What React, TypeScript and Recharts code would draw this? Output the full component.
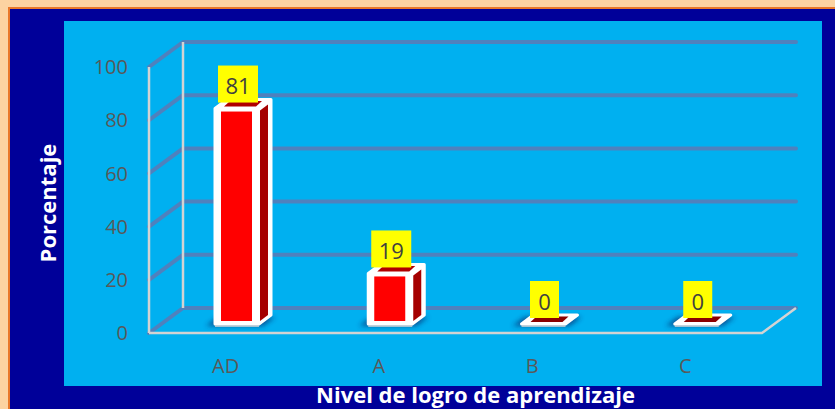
import React from 'react';
import { BarChart, Bar, XAxis, YAxis, CartesianGrid, ReferenceArea, LabelList, Label } from 'recharts';

const categories = ['AD', 'A', 'B', 'C'];
const percentages = [81, 19, 0, 0];
const yTicks = [0, 20, 40, 60, 80, 100];
const yTitle = 'Porcentaje';
const xTitle = 'Nivel de logro de aprendizaje';

const data = categories.map((c, i) => ({ cat: c, value: percentages[i] }));

// 3D layout constants
const DEPTH_X = 34;
const DEPTH_Y = -25;
const FX = 11;
const FY = -9;
const BX = 12;
const BY = -9;
const FONT = '"Open Sans", "Liberation Sans", sans-serif';
const GRID = '#4F81BD';
const FRAME = '#D3D3D3';

const gridLine = (props: any) => {
  const { x1, y1, x2 } = props;
  return (
    <polyline
      key={`g-${props.index}-${y1}`}
      points={`${x1},${y1} ${x1 + DEPTH_X},${y1 + DEPTH_Y} ${x2 + DEPTH_X},${y1 + DEPTH_Y}`}
      fill="none"
      stroke={GRID}
      strokeWidth={4}
      strokeLinecap="round"
      strokeLinejoin="round"
    />
  );
};

const frame = (props: any) => {
  const { x, y, width, height } = props;
  const b = y + height;
  return (
    <g>
      <line x1={x + DEPTH_X} y1={y + DEPTH_Y} x2={x + DEPTH_X} y2={b + DEPTH_Y} stroke={FRAME} strokeWidth={2.5} />
      <line x1={x} y1={y} x2={x} y2={b} stroke={FRAME} strokeWidth={2.5} />
      <polyline
        points={`${x},${b} ${x + width},${b} ${x + width + DEPTH_X},${b + DEPTH_Y}`}
        fill="none"
        stroke={FRAME}
        strokeWidth={2.5}
      />
    </g>
  );
};

const Bar3D = (props: any) => {
  const { x, y, width, height, index } = props;
  const h = Math.max(0, height || 0);
  const w = width;
  const fx = x + FX;
  const fy = y + FY;
  const fid = `shadow-${index}`;
  const sil = [
    [fx, fy + h],
    [fx, fy],
    [fx + BX, fy + BY],
    [fx + w + BX, fy + BY],
    [fx + w + BX, fy + h + BY],
    [fx + w, fy + h],
  ]
    .map((p) => p.join(','))
    .join(' ');
  const shadow = [
    [fx - 9, fy + h + 2],
    [fx - 9 + BX, fy + h + BY + 2],
    [fx + w + BX + 4, fy + h + BY + 2],
    [fx + w + 4, fy + h + 2],
  ]
    .map((p) => p.join(','))
    .join(' ');
  const topInner = [
    [fx + 9, fy - 2],
    [fx + 15, fy - 7.5],
    [fx + w + 3, fy - 7.5],
    [fx + w - 3, fy - 2],
  ]
    .map((p) => p.join(','))
    .join(' ');
  const sx0 = fx + w + 1;
  const sx1 = fx + w + BX - 3;
  const slope = BY / BX;
  const sideInner = [
    [sx0, fy + 2],
    [sx1, fy + 2 + slope * (sx1 - sx0)],
    [sx1, fy + h - 3 + slope * (sx1 - sx0)],
    [sx0, fy + h - 3],
  ]
    .map((p) => p.join(','))
    .join(' ');
  return (
    <g>
      <defs>
        <filter id={fid} x="-50%" y="-50%" width="200%" height="200%">
          <feGaussianBlur stdDeviation="2.5" />
        </filter>
      </defs>
      <polygon points={shadow} fill="#0B2A6E" opacity={0.7} filter={`url(#${fid})`} />
      <polygon points={sil} fill="#FFFFFF" stroke="#FFFFFF" strokeWidth={3} strokeLinejoin="round" />
      <line x1={fx} y1={fy + h + 2} x2={fx + w} y2={fy + h + 2} stroke="#D8D8D8" strokeWidth={1.5} />
      {h > 10 && <polygon points={sideInner} fill="#A50000" />}
      <polygon points={topInner} fill={h > 0 ? '#B00000' : '#8B0000'} />
      {h > 12 && <rect x={fx + 6} y={fy + 3} width={w - 13} height={h - 6} fill="#FF0000" />}
    </g>
  );
};

const valueLabel = (props: any) => {
  const { x, y, width, value } = props;
  const txt = String(value);
  const bw = txt.length * 11 + 18;
  const bh = 37;
  const cx = x + width / 2 + FX + 1;
  const bottom = y + FY - 6;
  return (
    <g>
      <rect x={cx - bw / 2} y={bottom - bh} width={bw} height={bh} fill="#FFFF00" />
      <text
        x={cx}
        y={bottom - bh / 2 + 1}
        textAnchor="middle"
        dominantBaseline="central"
        fontSize={22}
        fontFamily={FONT}
        fill="#404040"
      >
        {txt}
      </text>
    </g>
  );
};

const xTitleContent = (props: any) => {
  const vb = props.viewBox || {};
  return (
    <text
      x={vb.x + vb.width / 2 + 20}
      y={vb.y + 70}
      textAnchor="middle"
      fontSize={22}
      fontWeight="bold"
      fontFamily={FONT}
      fill="#FFFFFF"
    >
      {xTitle}
    </text>
  );
};

const yTitleContent = (props: any) => {
  const vb = props.viewBox || {};
  const cx = 56;
  const cy = vb.y + vb.height / 2 + 3;
  return (
    <text
      x={cx}
      y={cy}
      transform={`rotate(-90 ${cx} ${cy})`}
      textAnchor="middle"
      fontSize={22}
      fontWeight="bold"
      fontFamily={FONT}
      fill="#FFFFFF"
    >
      {yTitle}
    </text>
  );
};

export default function App() {
  return (
    <div style={{ position: 'absolute', left: 0, top: 0, width: 835, height: 409, background: '#FCD3A1', overflow: 'hidden' }}>
      <div style={{ position: 'absolute', left: 8, top: 7, width: 827, height: 402, background: '#E8782A' }} />
      <div style={{ position: 'absolute', left: 10, top: 9, width: 825, height: 400, background: '#000099' }} />
      <div style={{ position: 'absolute', left: 64, top: 21, width: 758, height: 365, background: '#00B0F0' }} />
      <div style={{ position: 'absolute', left: 0, top: 0 }}>
        <BarChart width={835} height={409} data={data} margin={{ top: 67, right: 73, bottom: 0, left: 0 }}>
          <CartesianGrid vertical={false} horizontal={gridLine} />
          <ReferenceArea y1={0} y2={100} shape={frame} ifOverflow="visible" />
          <XAxis
            dataKey="cat"
            height={76}
            axisLine={false}
            tickLine={false}
            tickSize={0}
            tickMargin={26}
            tick={{ fill: '#595959', fontSize: 20, fontFamily: FONT }}
            interval={0}
          >
            <Label content={xTitleContent} />
          </XAxis>
          <YAxis
            width={149}
            domain={[0, 100]}
            ticks={yTicks}
            axisLine={false}
            tickLine={false}
            tickSize={0}
            tickMargin={21}
            tick={{ fill: '#595959', fontSize: 20, fontFamily: FONT }}
          >
            <Label content={yTitleContent} />
          </YAxis>
          <Bar dataKey="value" barSize={44} shape={Bar3D} isAnimationActive={false}>
            <LabelList dataKey="value" content={valueLabel} />
          </Bar>
        </BarChart>
      </div>
    </div>
  );
}
